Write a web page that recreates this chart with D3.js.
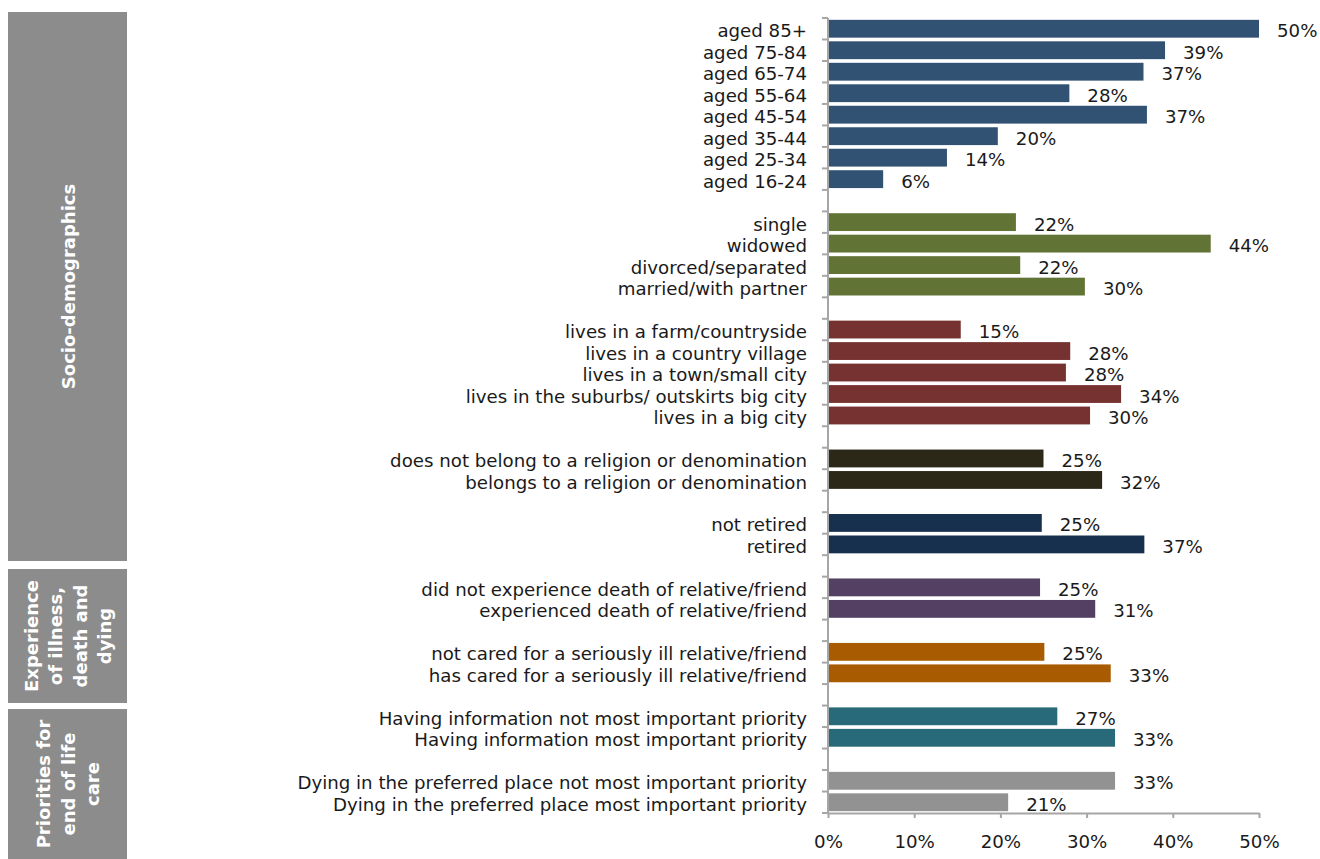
<!DOCTYPE html>
<html>
<head>
<meta charset="utf-8">
<script src="https://cdn.jsdelivr.net/npm/d3@7"></script>
<style>
  body { margin: 0; background: #fff; }
</style>
</head>
<body>
<div class="chart"></div>
<script>
// values in %
const ageCats = ['aged 85+', 'aged 75-84', 'aged 65-74', 'aged 55-64', 'aged 45-54', 'aged 35-44', 'aged 25-34', 'aged 16-24'];
const ageVals = [50, 39.1, 36.6, 28.0, 37.0, 19.7, 13.8, 6.4];

const maritalCats = ['single', 'widowed', 'divorced/separated', 'married/with partner'];
const maritalVals = [21.8, 44.4, 22.3, 29.8];

const placeCats = ['lives in a farm/countryside', 'lives in a country village', 'lives in a town/small city', 'lives in the suburbs/ outskirts big city', 'lives in a big city'];
const placeVals = [15.4, 28.1, 27.6, 34.0, 30.4];

const religionCats = ['does not belong to a religion or denomination', 'belongs to a religion or denomination'];
const religionVals = [25.0, 31.8];

const retiredCats = ['not retired', 'retired'];
const retiredVals = [24.8, 36.7];

const deathCats = ['did not experience death of relative/friend', 'experienced death of relative/friend'];
const deathVals = [24.6, 31.0];

const caredCats = ['not cared for a seriously ill relative/friend', 'has cared for a seriously ill relative/friend'];
const caredVals = [25.1, 32.8];

const infoCats = ['Having information not most important priority', 'Having information most important priority'];
const infoVals = [26.6, 33.3];

const placeDyingCats = ['Dying in the preferred place not most important priority', 'Dying in the preferred place most important priority'];
const placeDyingVals = [33.3, 20.9];

const xTicks = [0, 10, 20, 30, 40, 50];

const panelTitles = [
  ['Socio-demographics'],
  ['Experience', 'of illness,', 'death and', 'dying'],
  ['Priorities for', 'end of life', 'care']
];

const groups = [
  { cats: ageCats, vals: ageVals, color: '#325274' },
  { cats: maritalCats, vals: maritalVals, color: '#627435' },
  { cats: placeCats, vals: placeVals, color: '#763230' },
  { cats: religionCats, vals: religionVals, color: '#2c2818' },
  { cats: retiredCats, vals: retiredVals, color: '#17304e' },
  { cats: deathCats, vals: deathVals, color: '#534063' },
  { cats: caredCats, vals: caredVals, color: '#a85b00' },
  { cats: infoCats, vals: infoVals, color: '#286a79' },
  { cats: placeDyingCats, vals: placeDyingVals, color: '#929292' }
];

// rows, with an empty row between groups
const rows = [];
groups.forEach((g, gi) => {
  if (gi > 0) rows.push({ key: 'gap' + gi, gap: true });
  g.cats.forEach((c, i) => rows.push({ key: c, label: c, value: g.vals[i], color: g.color, group: gi }));
});

const w = 1320;
const h = 859;
const plotLeft = 828;
const plotRight = 1259;
const plotTop = 18;
const plotBottom = 813;
const font = "'DejaVu Sans', sans-serif";
const fontSize = 18.2;

const svg = d3.select('.chart')
  .append('svg')
  .attr('width', w)
  .attr('height', h);

const x = d3.scaleLinear().domain([0, 50]).range([plotLeft, plotRight]);
const y = d3.scaleBand()
  .domain(rows.map(d => d.key))
  .range([plotTop, plotBottom])
  .paddingInner(0.17)
  .paddingOuter(0.085);

const half = (y.step() - y.bandwidth()) / 2;

// side panels
const boxes = [[12, 561], [569, 703], [709, 859]];
const panelG = svg.append('g');
boxes.forEach((b, i) => {
  panelG.append('rect')
    .attr('x', 8)
    .attr('y', b[0])
    .attr('width', 119)
    .attr('height', b[1] - b[0])
    .attr('fill', '#8c8c8c');
  const cy = (b[0] + b[1]) / 2;
  const lines = panelTitles[i];
  const t = panelG.append('text')
    .attr('transform', `translate(68, ${cy}) rotate(-90)`)
    .attr('text-anchor', 'middle')
    .attr('fill', '#fff')
    .attr('font-weight', 'bold')
    .attr('font-family', font)
    .attr('font-size', 18);
  lines.forEach((l, j) => {
    t.append('tspan')
      .attr('x', 0)
      .attr('y', (j - (lines.length - 1) / 2) * 24.5 + 6.5)
      .text(l);
  });
});

const data = rows.filter(r => !r.gap);

svg.append('g')
  .selectAll('rect')
  .data(data)
  .enter()
  .append('rect')
  .attr('x', x(0))
  .attr('y', d => y(d.key))
  .attr('width', d => x(d.value) - x(0))
  .attr('height', y.bandwidth())
  .attr('fill', d => d.color);

// category labels
svg.append('g')
  .selectAll('text')
  .data(data)
  .enter()
  .append('text')
  .attr('x', plotLeft - 21)
  .attr('y', d => y(d.key) + y.bandwidth() / 2 + 2)
  .attr('dy', '0.36em')
  .attr('text-anchor', 'end')
  .attr('font-family', font)
  .attr('font-size', fontSize)
  .attr('fill', '#1a1a1a')
  .text(d => d.label);

// value labels
svg.append('g')
  .selectAll('text')
  .data(data)
  .enter()
  .append('text')
  .attr('x', d => x(d.value) + 18)
  .attr('y', d => y(d.key) + y.bandwidth() / 2 + 2)
  .attr('dy', '0.36em')
  .attr('font-family', font)
  .attr('font-size', fontSize)
  .attr('fill', '#1a1a1a')
  .text(d => Math.round(d.value) + '%');

// y axis with ticks between rows
const yAxisG = svg.append('g').attr('stroke', '#a6a6a6').attr('stroke-width', 2);
yAxisG.append('line')
  .attr('x1', plotLeft).attr('x2', plotLeft)
  .attr('y1', plotTop).attr('y2', plotBottom);
const tickYs = rows.map(r => y(r.key) - half).concat([plotBottom]);
yAxisG.selectAll('.yt')
  .data(tickYs)
  .enter()
  .append('line')
  .attr('class', 'yt')
  .attr('x1', plotLeft - 6).attr('x2', plotLeft)
  .attr('y1', d => d).attr('y2', d => d);

// x axis
const xAxis = svg.append('g')
  .attr('transform', `translate(0, ${plotBottom})`)
  .call(d3.axisBottom(x).tickValues(xTicks).tickFormat(d => d + '%').tickSize(5).tickSizeOuter(0));
xAxis.select('.domain').attr('stroke', '#a6a6a6').attr('stroke-width', 2);
xAxis.selectAll('.tick line').attr('stroke', '#a6a6a6').attr('stroke-width', 2);
xAxis.selectAll('.tick text')
  .attr('y', 22.5)
  .attr('font-size', fontSize)
  .attr('font-family', font)
  .attr('fill', '#1a1a1a');
</script>
</body>
</html>
